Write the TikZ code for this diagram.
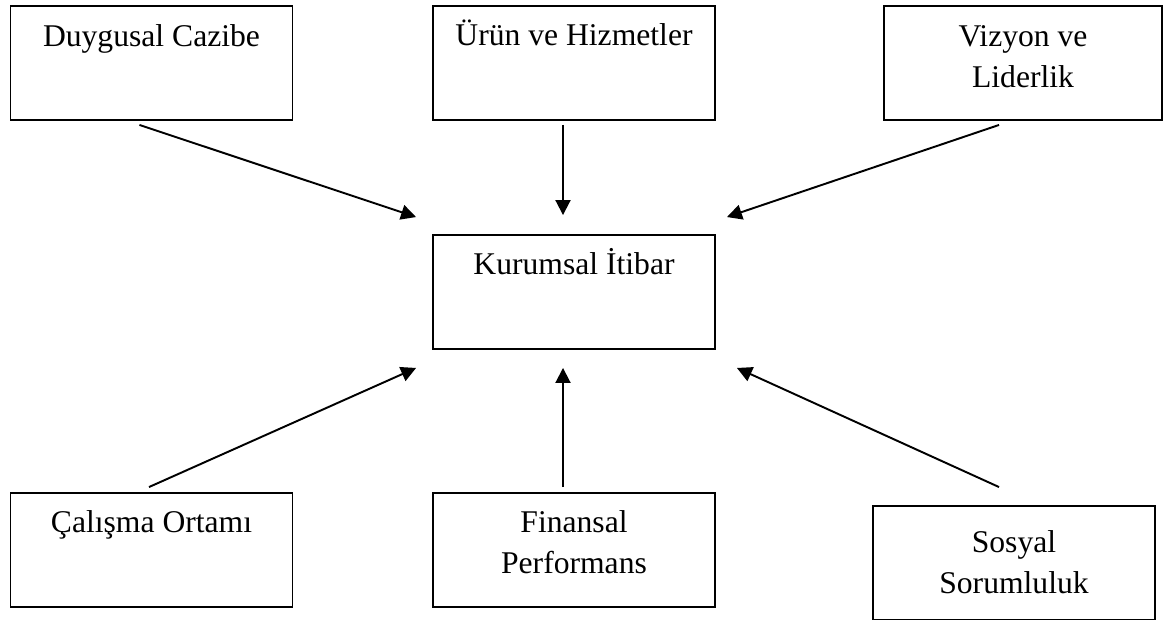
\documentclass[tikz,border=0pt]{standalone}
\usepackage{fontspec}
\setmainfont{Liberation Serif}
\usetikzlibrary{arrows.meta,positioning,calc}

\begin{document}
\begin{tikzpicture}[x=0.02cm,y=-0.02cm,
  factor/.style={rectangle,draw,line width=1.1pt,minimum width=5.64cm,minimum height=2.28cm,inner sep=0pt},
  caption/.style={anchor=base,align=center,inner sep=0pt,font=\fontsize{18}{23.3}\selectfont},
  link/.style={-{Triangle[length=0.3cm,width=0.3cm]},line width=1.1pt}]
\useasboundingbox (0,0) rectangle (1163,619);
% Factor boxes
\node[factor] (ki) at (574,292) {};
\node[factor] (dc) at (151.5,63) {};
\node[factor] (uh) at (574,63) {};
\node[factor,minimum width=5.56cm] (vl) at (1023,63) {};
\node[factor] (co) at (151.5,550) {};
\node[factor] (fp) at (574,550) {};
\node[factor] (ss) at (1014,563) {};

% Box texts
\node[caption] (tki) at ([yshift=-0.8cm]ki.north) {Kurumsal İtibar};
\node[caption] (tdc) at ([yshift=-0.82cm]dc.north) {Duygusal Cazibe};
\node[caption] (tuh) at ([yshift=-0.8cm]uh.north) {Ürün ve Hizmetler};
\node[caption] (tvl) at ([yshift=-1.64cm]vl.north) {Vizyon ve\\Liderlik};
\node[caption] (tco) at ([yshift=-0.8cm]co.north) {Çalışma Ortamı};
\node[caption] (tfp) at ([yshift=-1.62cm]fp.north) {Finansal\\Performans};
\node[caption] (tss) at ([yshift=-1.76cm]ss.north) {Sosyal\\Sorumluluk};

% Arrows into the centre
\draw[link] ([shift={(-12,4)}]dc.south) -- ([shift={(-16,-17)}]ki.north west);
\draw[link] ([shift={(-11,4)}]uh.south) -- ([shift={(-11,-19)}]ki.north);
\draw[link] ([shift={(-24,4)}]vl.south) -- ([shift={(11,-17)}]ki.north east);
\draw[link] ([shift={(-2.5,-5)}]co.north) -- ([shift={(-16,18)}]ki.south west);
\draw[link] ([shift={(-11,-5)}]fp.north) -- ([shift={(-11,18)}]ki.south);
\draw[link] ([shift={(-15,-18)}]ss.north) -- ([shift={(21,18)}]ki.south east);
\end{tikzpicture}
\end{document}
